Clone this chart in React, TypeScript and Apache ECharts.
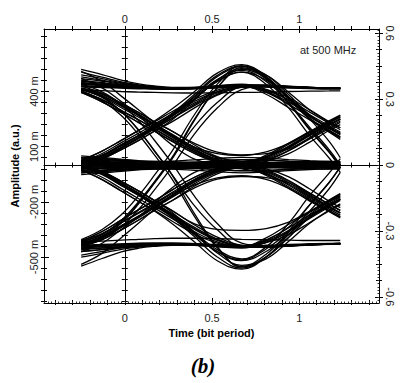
import React, { useEffect, useRef } from "react";
import * as echarts from "echarts";

const TIMES = [-0.25, -0.13, -0.02, 0.08, 0.17, 0.27, 0.4, 0.53, 0.67, 0.81, 0.94, 1.06, 1.17, 1.235];

// Traces whose centre symbol sits on the upper level (milli-units, left axis)
const topTraces = [
  [430, 426, 422, 419, 416, 415, 417, 421, 425, 424, 420, 417, 415, 415],
  [505, 478, 452, 436, 426, 420, 420, 426, 432, 430, 425, 420, 418, 418],
  [455, 445, 434, 426, 420, 417, 420, 428, 436, 434, 428, 422, 419, 418],
  [410, 405, 400, 397, 395, 393, 392, 393, 395, 397, 400, 402, 403, 404],
  [470, 456, 440, 430, 423, 419, 420, 425, 430, 428, 423, 419, 416, 416],
  [490, 470, 448, 434, 425, 420, 421, 428, 436, 433, 426, 421, 419, 419],
  [520, 492, 462, 442, 430, 423, 422, 427, 434, 432, 427, 422, 420, 420],
  [440, 432, 425, 420, 416, 414, 416, 422, 428, 426, 420, 416, 414, 414],
  [440, 434, 427, 422, 418, 416, 418, 425, 430, 400, 342, 274, 214, 180],
  [480, 462, 444, 432, 424, 420, 423, 432, 440, 412, 355, 288, 228, 192],
  [460, 448, 436, 428, 422, 419, 421, 428, 432, 385, 312, 246, 186, 152],
  [425, 422, 418, 415, 413, 412, 415, 422, 426, 410, 366, 300, 236, 203],
  [450, 440, 430, 424, 420, 418, 420, 427, 434, 395, 330, 262, 202, 168],
  [445, 437, 428, 422, 418, 416, 419, 426, 432, 398, 328, 205, 85, 0],
  [430, 426, 422, 419, 416, 415, 417, 421, 425, 405, 350, 250, 130, 40],
  [15, 52, 110, 160, 210, 266, 338, 398, 428, 430, 426, 421, 418, 417],
  [-5, 35, 92, 145, 198, 255, 330, 392, 425, 428, 425, 420, 417, 416],
  [25, 76, 134, 189, 235, 290, 357, 408, 432, 434, 429, 423, 420, 419],
  [4, 34, 84, 134, 185, 235, 311, 380, 424, 430, 427, 422, 419, 418],
  [19, 63, 122, 174, 223, 277, 347, 400, 428, 430, 426, 421, 418, 417],
  [8, 42, 97, 147, 197, 252, 323, 385, 422, 428, 425, 420, 418, 417],
  [10, 48, 105, 158, 212, 275, 376, 481, 535, 470, 360, 250, 180, 140],
  [0, 38, 95, 150, 204, 265, 360, 455, 505, 462, 368, 268, 205, 172],
  [25, 76, 134, 189, 240, 305, 400, 500, 546, 482, 360, 250, 182, 148],
  [4, 34, 84, 134, 185, 245, 355, 462, 525, 490, 395, 300, 235, 202],
  [12, 50, 108, 160, 215, 280, 385, 488, 540, 490, 382, 272, 200, 165],
  [20, 55, 112, 162, 212, 270, 370, 465, 515, 455, 340, 195, 75, -5],
  [0, 38, 95, 150, 204, 265, 360, 455, 505, 440, 310, 160, 40, -40],
  [-425, -385, -308, -205, -95, 35, 210, 340, 425, 430, 426, 421, 418, 417],
  [-438, -405, -335, -240, -135, -10, 170, 310, 410, 428, 426, 421, 418, 417],
  [-440, -395, -315, -210, -98, 32, 245, 420, 530, 475, 370, 265, 205, 172],
  [-405, -350, -270, -165, -55, 75, 275, 440, 540, 480, 365, 255, 190, 155],
  [-415, -378, -300, -198, -90, 40, 250, 420, 520, 470, 335, 190, 70, -15],
];

// Traces whose centre symbol sits on the middle level
const midTraces = [
  [415, 378, 320, 268, 215, 160, 98, 62, 52, 72, 118, 180, 232, 262],
  [416, 386, 336, 286, 235, 185, 118, 70, 56, 62, 88, 150, 215, 248],
  [410, 372, 312, 260, 208, 152, 82, 30, 8, 4, 2, 0, 0, 0],
  [470, 420, 345, 270, 190, 110, 32, 2, -6, -6, -4, -2, 0, 0],
  [440, 398, 335, 278, 222, 165, 95, 42, 20, 12, 8, 5, 4, 4],
  [395, 355, 295, 245, 195, 140, 70, 20, -2, -6, -8, -6, -4, -4],
  [395, 344, 286, 231, 185, 130, 63, 17, 0, -2, -3, -2, 0, 0],
  [416, 386, 336, 286, 235, 185, 109, 46, 10, 4, 2, 2, 2, 2],
  [401, 357, 298, 246, 197, 143, 73, 23, 2, 0, -2, -2, 0, 0],
  [412, 378, 323, 273, 223, 168, 97, 38, 6, 4, 4, 2, 2, 2],
  [510, 455, 375, 300, 230, 160, 80, 28, 6, 2, 0, 0, 0, 0],
  [430, 390, 328, 272, 216, 158, 88, 30, 2, -28, -84, -152, -212, -246],
  [395, 344, 286, 231, 185, 130, 63, 17, -4, -48, -119, -185, -246, -282],
  [5, 4, 2, 0, 0, 0, 2, 4, 6, 34, 92, 160, 216, 250],
  [-12, -10, -8, -5, -3, -1, 2, 8, 14, 42, 98, 165, 220, 252],
  [25, 20, 15, 10, 6, 4, 4, 5, 6, 30, 80, 142, 198, 232],
  [40, 34, 26, 18, 12, 8, 8, 12, 18, 46, 100, 166, 220, 252],
  [-4, -3, -2, 0, 2, 3, 4, 5, 8, 54, 120, 183, 240, 272],
  [10, 8, 6, 5, 4, 4, 4, 4, 4, 20, 62, 125, 188, 220],
  [0, 0, 0, 0, 0, 0, 0, 2, 4, 40, 104, 170, 228, 262],
  [8, 6, 4, 2, 0, -2, -4, -6, -8, -38, -96, -166, -226, -260],
  [-20, -16, -12, -8, -5, -3, -4, -6, -8, -34, -88, -154, -212, -246],
  [-42, -36, -28, -20, -14, -10, -10, -14, -20, -50, -104, -172, -230, -262],
  [-6, -5, -4, -3, -2, -2, -3, -5, -8, -56, -126, -192, -252, -288],
  [18, 14, 10, 8, 6, 4, 2, 0, -2, -20, -64, -130, -196, -231],
  [0, 0, 0, 0, 0, 0, 0, -2, -4, -44, -110, -178, -238, -272],
  [-430, -390, -330, -276, -222, -165, -90, -32, -5, -2, 0, 2, 2, 2],
  [-470, -425, -350, -280, -205, -125, -40, -5, 4, 4, 2, 0, -2, -2],
  [-410, -372, -314, -262, -212, -156, -84, -28, -2, 0, 2, 4, 4, 4],
  [-414, -361, -299, -242, -194, -136, -66, -18, 0, 2, 3, 2, 0, 0],
  [-436, -405, -352, -299, -246, -194, -114, -48, -10, -4, -2, -2, -2, -2],
  [-420, -374, -312, -257, -207, -150, -77, -24, 0, 2, 2, 2, 0, 0],
  [-431, -396, -339, -286, -233, -176, -101, -40, -4, -2, 0, 0, 0, 0],
  [-540, -480, -395, -315, -240, -165, -82, -28, -6, -2, 0, 0, 0, 0],
  [-425, -388, -330, -278, -226, -172, -108, -70, -58, -78, -128, -196, -250, -280],
  [-436, -405, -352, -299, -246, -194, -124, -76, -62, -68, -96, -160, -225, -258],
  [-440, -398, -336, -280, -224, -166, -92, -36, -8, 22, 78, 146, 206, 240],
  [-414, -361, -299, -242, -194, -136, -66, -18, 4, 46, 113, 176, 235, 269],
  [0, 2, 4, 4, 3, 0, -3, -5, -5, -4, -2, 0, 2, 3],
  [20, 18, 15, 12, 10, 10, 12, 15, 18, 16, 12, 10, 8, 8],
  [-20, -18, -15, -12, -10, -10, -12, -15, -18, -16, -12, -10, -8, -8],
  [35, 30, 25, 20, 15, 12, 15, 22, 30, 28, 22, 18, 15, 14],
  [-35, -30, -25, -20, -16, -14, -16, -24, -32, -30, -24, -18, -15, -14],
  [8, 10, 10, 8, 5, 2, -2, -4, -2, 2, 6, 8, 10, 10],
  [-8, -10, -12, -10, -6, -2, 2, 6, 8, 4, -2, -6, -8, -8],
  [50, 42, 32, 24, 18, 14, 16, 22, 28, 26, 20, 15, 12, 12],
  [-52, -44, -34, -26, -20, -16, -18, -24, -30, -28, -22, -16, -14, -12],
  [12, 14, 18, 20, 20, 18, 14, 10, 8, 10, 14, 18, 20, 20],
  [-14, -16, -20, -22, -22, -20, -16, -12, -10, -12, -16, -20, -22, -22],
  [28, 26, 22, 18, 14, 10, 8, 8, 10, 12, 14, 14, 14, 14],
  [-28, -26, -22, -18, -14, -10, -8, -8, -10, -12, -14, -14, -14, -14],
  [4, 0, -6, -10, -12, -10, -6, 0, 4, 6, 6, 4, 2, 0],
  [-4, 0, 6, 10, 12, 10, 6, 0, -4, -6, -6, -4, -2, 0],
  [42, 36, 28, 22, 20, 22, 28, 36, 42, 38, 30, 24, 20, 18],
  [-42, -36, -28, -22, -20, -22, -28, -36, -42, -38, -30, -24, -20, -18],
];

// Traces whose centre symbol sits on the lower level
const lowTraces = [
  [-440, -436, -432, -430, -428, -428, -430, -434, -438, -436, -432, -428, -426, -426],
  [-550, -508, -472, -452, -442, -436, -435, -440, -446, -442, -436, -430, -428, -428],
  [-470, -460, -450, -443, -438, -435, -436, -442, -448, -446, -440, -434, -430, -430],
  [-420, -414, -408, -404, -400, -398, -398, -400, -404, -406, -408, -410, -410, -410],
  [-500, -480, -458, -446, -438, -434, -435, -441, -448, -445, -438, -432, -430, -430],
  [-455, -450, -443, -438, -434, -432, -433, -438, -444, -442, -436, -432, -430, -430],
  [-450, -444, -437, -432, -429, -428, -431, -438, -444, -413, -355, -284, -222, -186],
  [-490, -470, -450, -440, -434, -432, -436, -444, -452, -420, -360, -290, -228, -192],
  [-470, -458, -446, -438, -433, -430, -432, -438, -444, -396, -322, -256, -194, -158],
  [-435, -432, -428, -425, -424, -424, -427, -433, -440, -422, -378, -312, -246, -211],
  [-460, -452, -444, -436, -431, -429, -432, -438, -446, -410, -340, -272, -210, -175],
  [-445, -438, -431, -427, -425, -425, -428, -434, -440, -406, -337, -216, -96, -10],
  [-450, -443, -436, -432, -430, -430, -433, -439, -446, -420, -360, -250, -130, -40],
  [-12, -52, -112, -165, -218, -275, -350, -410, -442, -444, -440, -434, -430, -428],
  [8, -40, -102, -156, -210, -268, -346, -406, -440, -442, -438, -432, -428, -426],
  [-26, -79, -141, -198, -246, -304, -374, -425, -446, -446, -441, -435, -431, -429],
  [-4, -35, -88, -141, -194, -246, -326, -392, -436, -442, -439, -433, -429, -427],
  [-20, -66, -128, -183, -233, -290, -363, -418, -444, -444, -440, -434, -430, -428],
  [-9, -44, -101, -154, -207, -264, -339, -402, -440, -442, -438, -432, -428, -426],
  [-10, -50, -110, -165, -220, -283, -390, -500, -560, -500, -392, -284, -220, -186],
  [2, -40, -100, -155, -210, -272, -372, -470, -520, -470, -376, -278, -216, -182],
  [-26, -79, -141, -198, -250, -318, -418, -520, -566, -500, -376, -268, -200, -164],
  [-4, -35, -88, -141, -194, -256, -366, -478, -545, -510, -414, -316, -250, -216],
  [0, -36, -92, -142, -192, -248, -320, -350, -355, -345, -310, -252, -200, -170],
  [-5, -45, -108, -162, -216, -276, -380, -470, -515, -456, -357, -216, -96, -10],
  [0, -38, -98, -152, -206, -266, -365, -460, -510, -445, -315, -165, -45, 35],
  [412, 370, 292, 190, 78, -50, -222, -352, -440, -442, -438, -432, -428, -426],
  [418, 390, 330, 240, 135, 10, -170, -318, -425, -440, -438, -432, -428, -426],
  [411, 368, 291, 188, 76, -53, -265, -444, -555, -499, -392, -282, -220, -185],
  [405, 350, 270, 165, 55, -75, -280, -450, -552, -485, -365, -255, -190, -155],
];

// Axis extents and tick / label values
const X_MIN = -0.463;
const X_MAX = 1.457;
const YL_MIN = -750;
const YL_MAX = 740;
const YR_MIN = -0.628;
const YR_MAX = 0.619;

const xLabelValues = [0, 0.5, 1];
const xTickValues = [-0.4, -0.3, -0.2, -0.1, 0, 0.1, 0.2, 0.3, 0.4, 0.5, 0.6, 0.7, 0.8, 0.9, 1, 1.1, 1.2, 1.3, 1.4];
const yLeftLabelValues = [400, 100, -200, -500];
const yLeftTickValues = [700, 640, 580, 520, 460, 400, 340, 280, 220, 160, 100, 40, -20, -80, -140, -200, -260, -320, -380, -440, -500, -560, -620, -680, -740];
const yRightLabelValues = [0.6, 0.3, 0, -0.3, -0.6];
const yRightTickValues = [0.6, 0.525, 0.45, 0.375, 0.3, 0.225, 0.15, 0.075, 0, -0.075, -0.15, -0.225, -0.3, -0.375, -0.45, -0.525, -0.6];
const xFineTicks = Array.from({ length: 96 }, (_, i) => +(-0.46 + 0.02 * i).toFixed(3));
const yRightFineTicks = Array.from({ length: 83 }, (_, i) => +(-0.615 + 0.015 * i).toFixed(3));

const LABEL_FONT = "'Liberation Sans', Arial, sans-serif";
const LABEL_COLOR = "#222";

type AxOpt = {
  position: string;
  min: number;
  max: number;
  line?: boolean;
  onZero?: boolean;
  ticks: number[];
  tickLen: number;
  inside?: boolean;
  tickColor?: string;
  extra?: any;
};

function axis(o: AxOpt) {
  const axisLine: any = {
    show: !!o.line,
    onZero: !!o.onZero,
    lineStyle: { color: "#000", width: 1 },
  };
  if (o.onZero) axisLine.onZeroAxisIndex = 0;
  return {
    type: "value",
    gridIndex: 0,
    position: o.position,
    min: o.min,
    max: o.max,
    axisLine,
    axisTick: {
      show: true,
      customValues: o.ticks,
      length: o.tickLen,
      inside: !!o.inside,
      lineStyle: { color: o.tickColor || "#000", width: 1 },
    },
    axisLabel: { show: false },
    splitLine: { show: false },
    minorTick: { show: false },
    silent: true,
    ...(o.extra || {}),
  };
}

const numLabel = (values: number[], extra: any) => ({
  show: true,
  customValues: values,
  color: LABEL_COLOR,
  fontFamily: LABEL_FONT,
  fontSize: 11,
  ...extra,
});

const xAxes = [
  axis({
    position: "bottom", min: X_MIN, max: X_MAX, line: true, ticks: xTickValues, tickLen: 2,
    extra: {
      axisLabel: numLabel(xLabelValues, { margin: 9 }),
      name: "Time (bit period)",
      nameLocation: "middle",
      nameGap: 24,
      nameTextStyle: { fontFamily: LABEL_FONT, fontSize: 11, fontWeight: "bold", color: "#000" },
    },
  }),
  axis({ position: "bottom", min: X_MIN, max: X_MAX, ticks: xTickValues, tickLen: 3, inside: true }),
  axis({ position: "bottom", min: X_MIN, max: X_MAX, ticks: xLabelValues, tickLen: 5, inside: true }),
  axis({ position: "bottom", min: X_MIN, max: X_MAX, ticks: xFineTicks, tickLen: 1.5, inside: true, tickColor: "#333" }),
  axis({
    position: "top", min: X_MIN, max: X_MAX, line: true, ticks: xTickValues, tickLen: 3,
    extra: { axisLabel: numLabel(xLabelValues, { margin: 5 }) },
  }),
  axis({ position: "top", min: X_MIN, max: X_MAX, ticks: xTickValues, tickLen: 2, inside: true }),
  axis({ position: "top", min: X_MIN, max: X_MAX, ticks: xLabelValues, tickLen: 4, inside: true }),
  axis({ position: "bottom", min: X_MIN, max: X_MAX, line: true, onZero: true, ticks: xTickValues, tickLen: 2.5 }),
  axis({ position: "top", min: X_MIN, max: X_MAX, onZero: true, ticks: xTickValues, tickLen: 2.5 }),
];

const yAxes = [
  axis({
    position: "left", min: YL_MIN, max: YL_MAX, line: true, ticks: yLeftTickValues, tickLen: 3,
    extra: {
      axisLabel: numLabel(yLeftLabelValues, { rotate: 90, margin: 5, formatter: (v: number) => `${v} m` }),
      name: "Amplitude (a.u.)",
      nameLocation: "middle",
      nameGap: 18,
      nameTextStyle: { fontFamily: LABEL_FONT, fontSize: 11, fontWeight: "bold", color: "#000" },
    },
  }),
  axis({ position: "left", min: YL_MIN, max: YL_MAX, ticks: yLeftTickValues, tickLen: 3, inside: true }),
  axis({ position: "left", min: YL_MIN, max: YL_MAX, ticks: yLeftLabelValues, tickLen: 5, inside: true }),
  axis({
    position: "right", min: YR_MIN, max: YR_MAX, line: true, ticks: yRightLabelValues, tickLen: 4,
    extra: { axisLabel: numLabel(yRightLabelValues, { rotate: -90, margin: 5 }) },
  }),
  axis({ position: "right", min: YR_MIN, max: YR_MAX, ticks: yRightLabelValues, tickLen: 4, inside: true }),
  axis({ position: "right", min: YR_MIN, max: YR_MAX, ticks: yRightTickValues, tickLen: 3 }),
  axis({ position: "right", min: YR_MIN, max: YR_MAX, ticks: yRightTickValues, tickLen: 3, inside: true }),
  axis({ position: "right", min: YR_MIN, max: YR_MAX, ticks: yRightFineTicks, tickLen: 1.5, inside: true, tickColor: "#333" }),
  axis({ position: "left", min: YL_MIN, max: YL_MAX, line: true, onZero: true, ticks: yLeftTickValues, tickLen: 3 }),
  axis({ position: "right", min: YL_MIN, max: YL_MAX, onZero: true, ticks: yLeftTickValues, tickLen: 3 }),
];

const allTraces = [...topTraces, ...midTraces, ...lowTraces];

const option: any = {
  animation: false,
  backgroundColor: "#fff",
  grid: {
    left: 44,
    right: 22,
    top: 29,
    bottom: 80,
    containLabel: false,
    outerBoundsMode: "none",
  },
  xAxis: xAxes,
  yAxis: yAxes,
  series: allTraces.map((tr) => ({
    type: "line",
    xAxisIndex: 0,
    yAxisIndex: 0,
    data: TIMES.map((t, i) => [t, tr[i]]),
    symbol: "none",
    showSymbol: false,
    smooth: 0.4,
    silent: true,
    lineStyle: { color: "#000", width: 1.3 },
    z: 1,
  })),
  graphic: [
    {
      type: "text",
      x: 300,
      y: 50,
      style: {
        text: "at 500 MHz",
        fontFamily: LABEL_FONT,
        fontSize: 11,
        fill: LABEL_COLOR,
        align: "left",
        verticalAlign: "middle",
      },
    },
    {
      type: "text",
      x: 203,
      y: 366,
      style: {
        text: "(b)",
        fontFamily: "'Liberation Serif', 'Times New Roman', serif",
        fontSize: 21,
        fontWeight: "bold",
        fontStyle: "italic",
        fill: "#000",
        align: "center",
        verticalAlign: "middle",
      },
    },
  ],
};

export default function App() {
  const ref = useRef<HTMLDivElement>(null);
  useEffect(() => {
    document.body.style.margin = "0";
    const chart = echarts.init(ref.current!, null, { renderer: "svg", width: 401, height: 383 });
    chart.setOption(option);
    return () => chart.dispose();
  }, []);
  return <div ref={ref} style={{ width: 401, height: 383, background: "#fff" }} />;
}
